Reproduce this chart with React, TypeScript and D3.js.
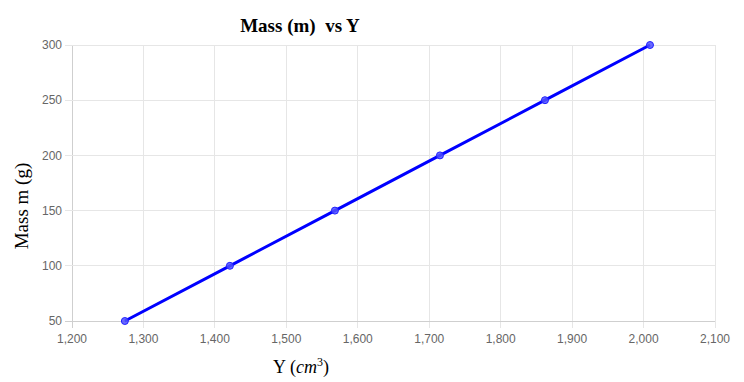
import React from "react";
import * as d3 from "d3";

const volumes = [1274, 1421, 1568, 1715, 1862, 2009];
const masses = [50, 100, 150, 200, 250, 300];
const xTicks = [1200, 1300, 1400, 1500, 1600, 1700, 1800, 1900, 2000, 2100];
const yTicks = [50, 100, 150, 200, 250, 300];

export default function App() {
  const W = 744, H = 382;
  const left = 72, right = 715, top = 45, bottom = 321;
  const x = d3.scaleLinear().domain([1200, 2100]).range([left, right]);
  const y = d3.scaleLinear().domain([50, 300]).range([bottom, top]);
  const pts = volumes.map((v, i) => [v, masses[i]] as [number, number]);
  const line = d3.line<[number, number]>().x(d => x(d[0])).y(d => y(d[1]));
  const tickFont = "Arial, 'Liberation Sans', sans-serif";
  const serif = "'Times New Roman', 'Liberation Serif', serif";
  return (
    <svg width={W} height={H} style={{ position: "absolute", left: 0, top: 0 }}>
      <rect width={W} height={H} fill="#fff" />
      {xTicks.map(t => (
        <line key={"gx" + t} x1={x(t)} x2={x(t)} y1={top} y2={bottom + 7}
          stroke={t === 1200 ? "#cfcfcf" : "#e6e6e6"} strokeWidth={1} shapeRendering="crispEdges" />
      ))}
      {yTicks.map(t => (
        <line key={"gy" + t} x1={left - 7} x2={right} y1={y(t)} y2={y(t)}
          stroke={t === 50 ? "#cfcfcf" : "#e6e6e6"} strokeWidth={1} shapeRendering="crispEdges" />
      ))}
      {yTicks.map(t => (
        <text key={"ty" + t} x={left - 10} y={y(t)} dy="0.35em" textAnchor="end"
          fontFamily={tickFont} fontSize={12} fill="#666">{t}</text>
      ))}
      {xTicks.map(t => (
        <text key={"tx" + t} x={x(t)} y={bottom + 22} textAnchor="middle"
          fontFamily={tickFont} fontSize={12} fill="#666">{d3.format(",")(t)}</text>
      ))}
      <path d={line(pts) || ""} fill="none" stroke="#0000ff" strokeWidth={3} />
      {pts.map((p, i) => (
        <circle key={"p" + i} cx={x(p[0])} cy={y(p[1])} r={3.5}
          fill="rgba(80,80,255,0.85)" stroke="#2020ff" strokeWidth={1} />
      ))}
      <text x={300} y={32} textAnchor="middle" fontFamily={serif}
        fontWeight="bold" fontSize={19} fill="#000" xmlSpace="preserve">Mass (m)  vs Y</text>
      <text transform={`translate(28,${(top + bottom) / 2 + 23}) rotate(-90)`} textAnchor="middle"
        fontFamily={serif} fontSize={19} fill="#000">Mass m (g)</text>
      <text x={301} y={373} textAnchor="middle" fontFamily={serif}
        fontSize={18} fill="#000">
        Y (<tspan fontStyle="italic">cm</tspan><tspan fontSize={12} dy={-7}>3</tspan><tspan dy={7}>)</tspan>
      </text>
    </svg>
  );
}
